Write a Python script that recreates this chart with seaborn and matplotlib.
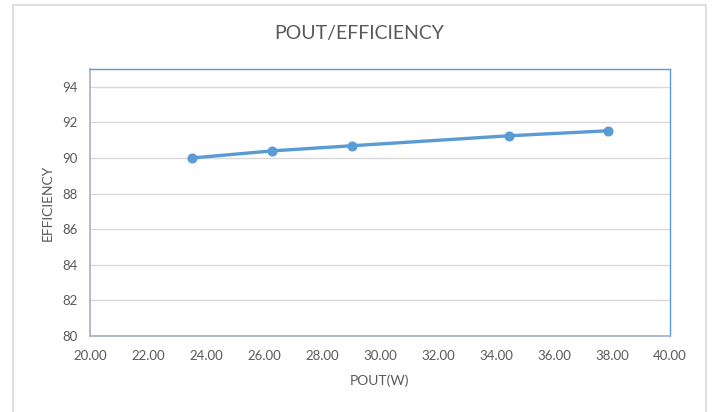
import matplotlib
matplotlib.use("Agg")
import matplotlib.pyplot as plt
import seaborn as sns
import pandas as pd
from matplotlib.patches import Rectangle

pout = [23.51, 26.29, 29.04, 34.46, 37.87]
efficiency = [90.0, 90.4, 90.69, 91.25, 91.53]
x_ticks = [20, 22, 24, 26, 28, 30, 32, 34, 36, 38, 40]
y_ticks = [80, 82, 84, 86, 88, 90, 92, 94]

sns.set_theme(style="white")
plt.rcParams['font.family'] = ['Lato', 'DejaVu Sans']

df = pd.DataFrame({"POUT": pout, "EFF": efficiency})

fig = plt.figure(figsize=(7.13, 4.12), dpi=100)
ax = fig.add_axes([90/713, 1-336/412, 580/713, 267/412])

line_color = "#5B9BD5"
text_color = "#595959"

sns.lineplot(data=df, x="POUT", y="EFF", ax=ax, color=line_color, linewidth=2.4,
             marker="o", markersize=6.5, markeredgecolor=line_color, zorder=3)

ax.set_xlim(20, 40)
ax.set_ylim(80, 95)
ax.set_xticks(x_ticks)
ax.set_xticklabels([f"{v:.2f}" for v in x_ticks])
ax.set_yticks(y_ticks)
ax.set_yticklabels([str(v) for v in y_ticks])
ax.tick_params(axis="x", length=0, labelsize=9.5, labelcolor=text_color, pad=10)
ax.tick_params(axis="y", length=0, labelsize=9.5, labelcolor=text_color, pad=9)
ax.grid(axis="y", color="#D9D9D9", linewidth=1)
ax.set_axisbelow(True)

for side in ["top", "right"]:
    ax.spines[side].set_color(line_color)
    ax.spines[side].set_linewidth(1)
for side in ["left", "bottom"]:
    ax.spines[side].set_color("#A9B6C6")
    ax.spines[side].set_linewidth(1.3)

ax.set_xlabel("POUT(W)", fontsize=10, color=text_color, labelpad=9)
ax.set_ylabel("EFFICIENCY", fontsize=10, color=text_color, labelpad=6)
fig.text(359/713, 1-34/412, "POUT/EFFICIENCY", ha="center", va="center",
         fontsize=14, color=text_color)

fig.patches.append(Rectangle((13/713, -0.05), (706-13)/713, 1-5/412+0.05,
                             transform=fig.transFigure, fill=False,
                             edgecolor="#D9D9D9", linewidth=1.2))

fig.savefig("out.png", dpi=100, facecolor="white")
